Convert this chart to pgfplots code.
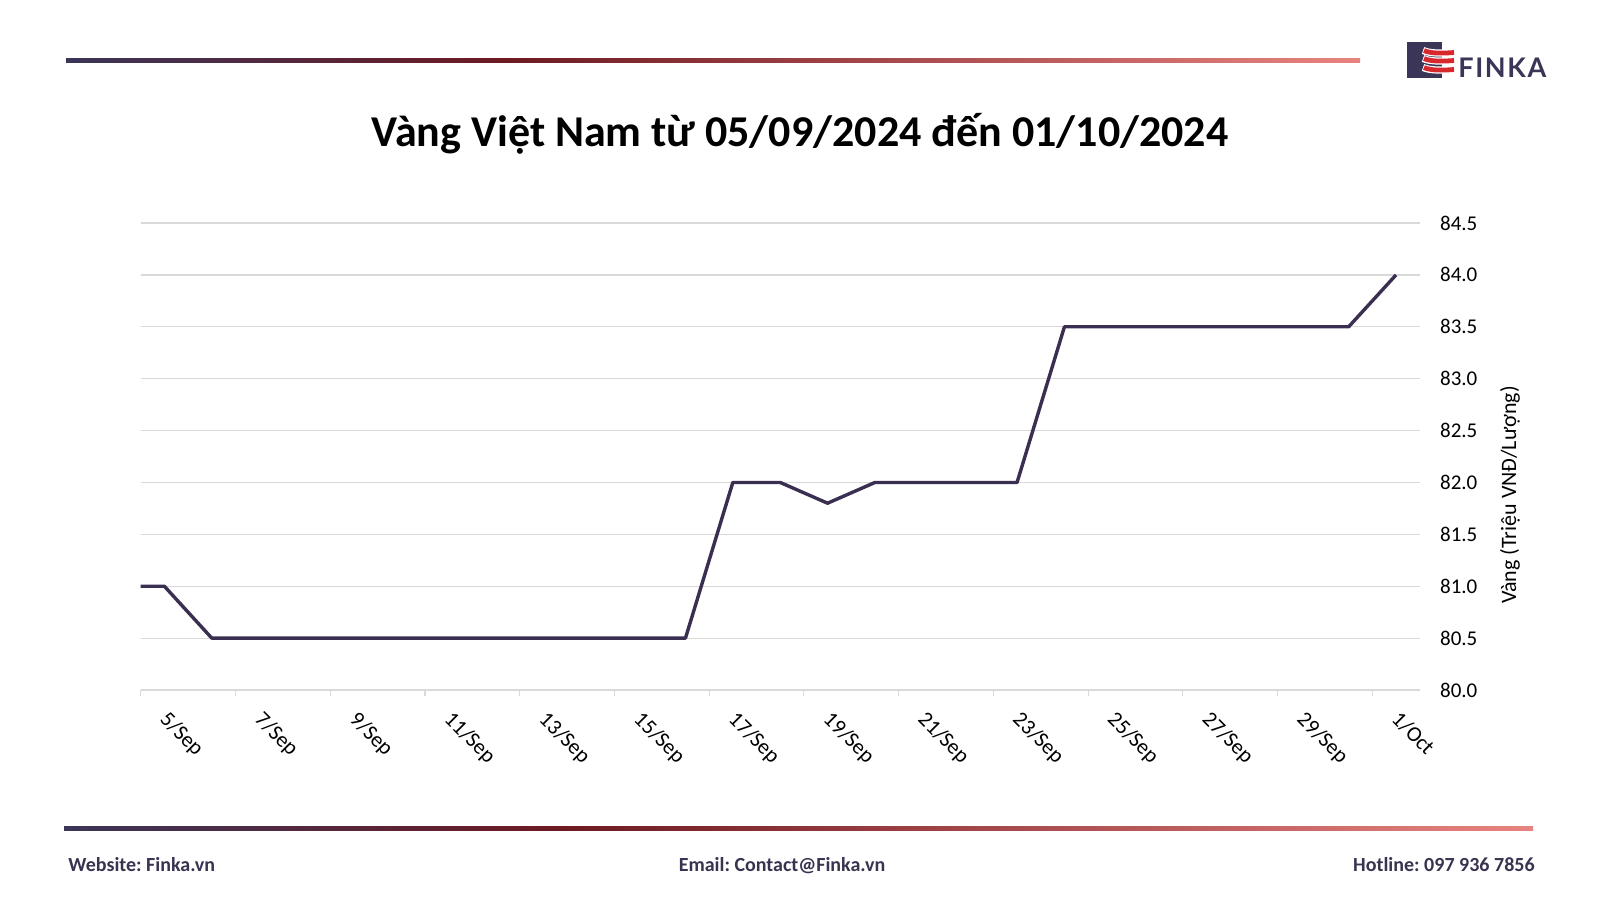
\documentclass[border=0pt]{standalone}
\usepackage{pgfplots}
\pgfplotsset{compat=1.18}
\usepackage{fontspec}
\setmainfont{Carlito}
\newfontfamily\logofont[LetterSpace=6]{Lato}
\definecolor{navyc}{HTML}{3B3558}
\definecolor{redc}{HTML}{6E1A22}
\definecolor{pinkc}{HTML}{E8847F}
\definecolor{linec}{HTML}{3A2F50}
\definecolor{gridc}{HTML}{D9D9D9}
\definecolor{logored}{HTML}{D8282E}
\definecolor{footc}{HTML}{3A3350}
\pgfdeclarehorizontalshading{finkaline}{100bp}{color(0bp)=(navyc); color(25bp)=(navyc); color(42bp)=(redc); color(75bp)=(pinkc); color(100bp)=(pinkc)}
\frenchspacing
\begin{document}
\begin{tikzpicture}
\begin{scope}[x=0.5pt,y=-0.5pt]
\fill[white] (0,0) rectangle (1600,900);
\shade[shading=finkaline] (66,58) rectangle (1360,62);
\shade[shading=finkaline] (64,826) rectangle (1533,830);
% logo
\fill[navyc] (1407,42) rectangle (1442,78);
\foreach \yy in {52.5,60.5,69.5} {
  \draw[white, line width=3.6pt] (1423,\yy-2) .. controls (1430,\yy+1) and (1442,\yy+1) .. (1455,\yy);
  \draw[logored, line width=2.4pt] (1424,\yy-2) .. controls (1430,\yy+1) and (1442,\yy+1) .. (1454,\yy);
}
\node[anchor=base west, inner sep=0pt, text=navyc, font=\logofont\bfseries\fontsize{13.5}{14}\selectfont] at (1458,77) {FINKA};
% title
\node[font=\bfseries\fontsize{22}{26}\selectfont, text=black] at (800,134) {Vàng Việt Nam từ 05/09/2024 đến 01/10/2024};
% footer
\node[anchor=base west, inner sep=0pt, text=footc, font=\bfseries\fontsize{10}{12}\selectfont] at (68,871) {Website: Finka.vn};
\node[anchor=base, inner sep=0pt, text=footc, font=\bfseries\fontsize{10}{12}\selectfont] at (782,871) {Email: Contact@Finka.vn};
\node[anchor=base east, inner sep=0pt, text=footc, font=\bfseries\fontsize{10}{12}\selectfont] at (1535,871) {Hotline: 097 936 7856};
% y label
\node[rotate=90, inner sep=0pt, font=\fontsize{11}{12}\selectfont] at (1510,495) {Vàng (Triệu VNĐ/Lượng)};
\end{scope}
\begin{axis}[
  at={(70.35pt,-345pt)}, anchor=south west,
  scale only axis, width=639.5pt, height=233.5pt,
  xmin=0, xmax=27, ymin=80, ymax=84.5,
  axis x line*=bottom, axis y line*=right,
  x axis line style={gridc, line width=0.6pt, -},
  y axis line style={draw=none},
  xtick={0,2,...,26},
  xticklabels={5/Sep,7/Sep,9/Sep,11/Sep,13/Sep,15/Sep,17/Sep,19/Sep,21/Sep,23/Sep,25/Sep,27/Sep,29/Sep,1/Oct},
  xtick style={gridc, line width=0.6pt},
  ytick style={draw=none},
  tick align=outside, major tick length=3pt,
  ytick={80,80.5,...,84.5},
  ymajorgrids, major grid style={gridc, line width=0.6pt},
  /pgf/number format/assume math mode=true,
  yticklabel={\pgfmathprintnumber[fixed,fixed zerofill,precision=1]{\tick}},
  yticklabel style={anchor=west, inner sep=0pt, xshift=7pt, font=\fontsize{10.5}{12}\selectfont},
  xticklabel style={xshift=14.5pt, yshift=-6.7pt, rotate=-45, anchor=north west, inner sep=0pt, font=\fontsize{10.8}{12}\selectfont},
  clip=true,
]
\addplot[linec, line width=1.7pt, line join=round] coordinates {
(-0.5,81.0) (0.5,81.0) (1.5,80.5) (2.5,80.5) (3.5,80.5) (4.5,80.5) (5.5,80.5)
(6.5,80.5) (7.5,80.5) (8.5,80.5) (9.5,80.5) (10.5,80.5) (11.5,80.5)
(12.5,82.0) (13.5,82.0) (14.5,81.8) (15.5,82.0) (16.5,82.0) (17.5,82.0) (18.5,82.0)
(19.5,83.5) (20.5,83.5) (21.5,83.5) (22.5,83.5) (23.5,83.5) (24.5,83.5) (25.5,83.5)
(26.5,84.0)};
\end{axis}
\end{tikzpicture}
\end{document}
